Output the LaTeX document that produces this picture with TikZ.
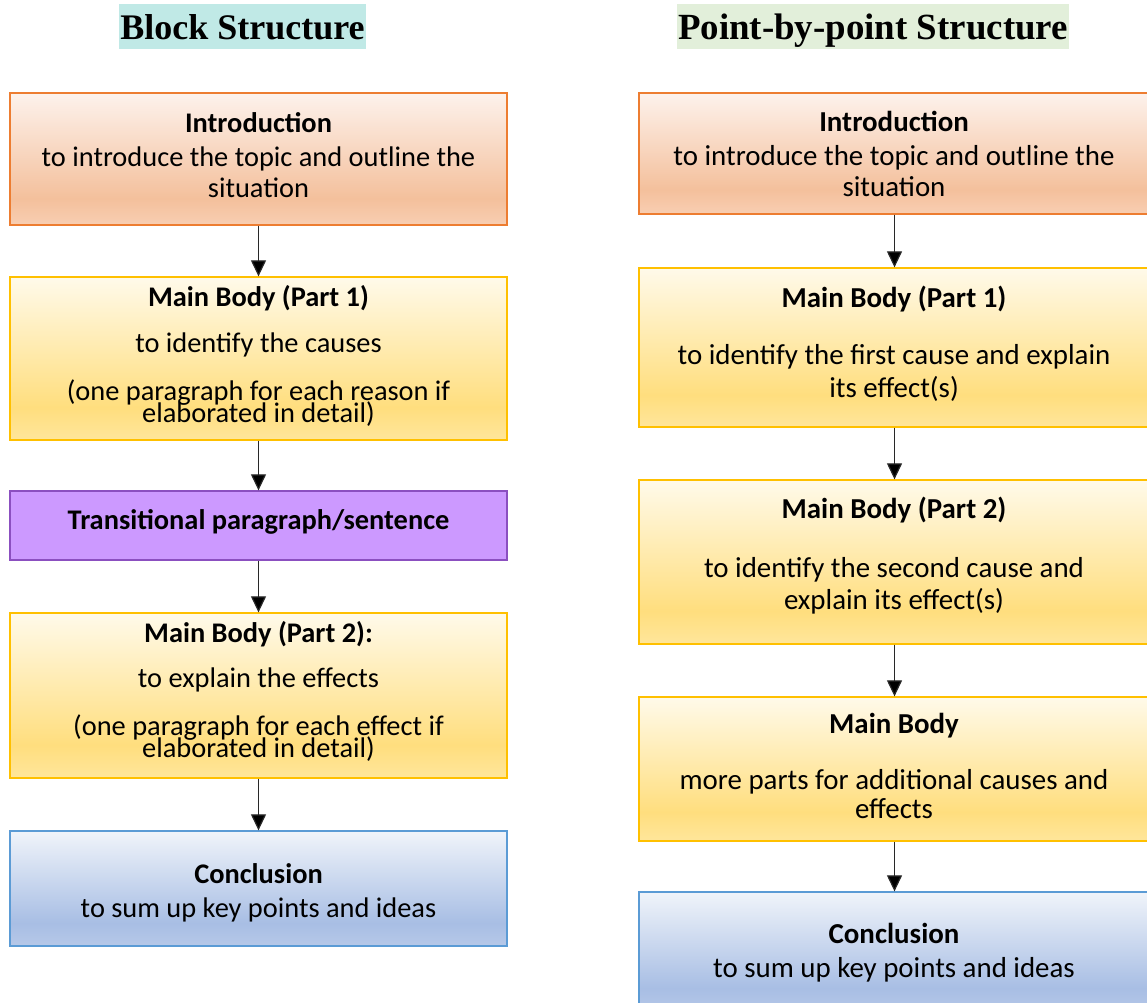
\documentclass[tikz,border=0pt]{standalone}
\usepackage{fontspec}
\setmainfont{Carlito}
\newfontfamily\titlefont{Liberation Serif}
\usetikzlibrary{arrows.meta}
\newcommand\mytightlines{\lineskiplimit=-100pt\relax\lineskip=0pt\relax}
\definecolor{cyanhl}{RGB}{192,233,230}
\definecolor{greenhl}{RGB}{226,239,218}
\definecolor{orbord}{RGB}{237,125,49}
\definecolor{yebord}{RGB}{255,192,0}
\definecolor{pubord}{RGB}{139,79,192}
\definecolor{pufill}{RGB}{204,153,255}
\definecolor{blbord}{RGB}{91,155,213}
\definecolor{inT}{RGB}{253,242,236}
\definecolor{inM}{RGB}{244,192,156}
\definecolor{inB}{RGB}{248,206,178}
\definecolor{yeT}{RGB}{255,250,234}
\definecolor{yeM}{RGB}{255,222,126}
\definecolor{yeB}{RGB}{255,230,155}
\definecolor{blT}{RGB}{240,244,250}
\definecolor{blM}{RGB}{168,190,228}
\definecolor{blB}{RGB}{182,200,232}
\definecolor{arr}{RGB}{40,40,40}
\pgfdeclareverticalshading{introsh}{100bp}{color(0bp)=(inB); color(25bp)=(inB); color(35bp)=(inM); color(75bp)=(inT); color(100bp)=(inT)}
\pgfdeclareverticalshading{yellowsh}{100bp}{color(0bp)=(yeB); color(25bp)=(yeB); color(35bp)=(yeM); color(75bp)=(yeT); color(100bp)=(yeT)}
\pgfdeclareverticalshading{bluesh}{100bp}{color(0bp)=(blB); color(25bp)=(blB); color(35bp)=(blM); color(75bp)=(blT); color(100bp)=(blT)}
\tikzset{
  boxbase/.style={draw, line width=1.3pt, inner sep=0pt},
  lbox/.style={boxbase, minimum width=497pt},
  rbox/.style={boxbase, minimum width=511pt},
  introbox/.style={draw=orbord, shading=introsh},
  bodybox/.style={draw=yebord, shading=yellowsh},
  transbox/.style={draw=pubord, fill=pufill},
  concbox/.style={draw=blbord, shading=bluesh},
  lt/.style={anchor=base, inner sep=0pt, font=\fontsize{28.4}{32}\selectfont},
  ltb/.style={lt, font=\fontsize{28.4}{32}\selectfont\bfseries},
  ltight/.style={anchor=north, inner sep=0pt, align=center, font=\fontsize{28.4}{22.5}\selectfont\mytightlines},
  rt/.style={anchor=base, inner sep=0pt, font=\fontsize{28.9}{32}\selectfont},
  rtb/.style={rt, font=\fontsize{28.9}{32}\selectfont\bfseries},
  titlebox/.style={inner sep=0pt, text depth=9.5pt, text height=35.5pt},
  flow/.style={draw=arr, line width=1.2pt, -{Triangle[width=15pt,length=16pt,fill=black]}}
}
\begin{document}
\begin{tikzpicture}[x=1pt,y=-1pt]
\useasboundingbox (0,0) rectangle (1147,1002);
\fill[white] (0,0) rectangle (1147,1002);
% titles
\node[titlebox, fill=cyanhl, minimum width=247pt, font=\fontsize{36}{40}\selectfont\titlefont\bfseries] (T1) at (242.5,26.5) {Block Structure};
\node[titlebox, fill=greenhl, minimum width=392pt, font=\fontsize{36.9}{40}\selectfont\titlefont\bfseries] (T2) at (873,26.5) {Point-by-point Structure};
% left boxes
\node[lbox, introbox, minimum height=132pt] (L1) at (258.5,159) {};
\node[lbox, bodybox, minimum height=163pt] (L2) at (258.5,358.5) {};
\node[lbox, transbox, minimum height=69pt] (L3) at (258.5,525.5) {};
\node[lbox, bodybox, minimum height=165pt] (L4) at (258.5,695.5) {};
\node[lbox, concbox, minimum height=115pt] (L5) at (258.5,888.5) {};
% right boxes
\node[rbox, introbox, minimum height=121pt] (R1) at (894.5,153.5) {};
\node[rbox, bodybox, minimum height=159pt] (R2) at (894.5,347.5) {};
\node[rbox, bodybox, minimum height=164pt] (R3) at (894.5,562) {};
\node[rbox, bodybox, minimum height=144pt] (R4) at (894.5,769) {};
\node[rbox, concbox, minimum height=120pt] (R5) at (894.5,952) {};
% left texts
\node[ltb] (L1a) at (258.5,132) {Introduction};
\node[lt] (L1b) at (258.5,166) {to introduce the topic and outline the};
\node[lt] (L1c) at (258.5,197) {situation};
\node[ltb] (L2a) at (258.5,306) {Main Body (Part 1)};
\node[lt] (L2b) at (258.5,352) {to identify the causes};
\node[ltight] (L2c) at (258.5,379.5) {(one paragraph for each reason if\\elaborated in detail)};
\node[ltb] (L3a) at (258.5,529) {Transitional paragraph/sentence};
\node[ltb] (L4a) at (258.5,642) {Main Body (Part 2):};
\node[lt] (L4b) at (258.5,687) {to explain the effects};
\node[ltight] (L4c) at (258.5,714.5) {(one paragraph for each effect if\\elaborated in detail)};
\node[ltb] (L5a) at (258.5,883) {Conclusion};
\node[lt] (L5b) at (258.5,917) {to sum up key points and ideas};
% right texts
\node[rtb] (R1a) at (894,131) {Introduction};
\node[rt] (R1b) at (894,165.5) {to introduce the topic and outline the};
\node[rt] (R1c) at (894,196) {situation};
\node[rtb] (R2a) at (894,307) {Main Body (Part 1)};
\node[rt] (R2b) at (894,364) {to identify the first cause and explain};
\node[rt] (R2c) at (894,397) {its effect(s)};
\node[rtb] (R3a) at (894,518) {Main Body (Part 2)};
\node[rt] (R3b) at (894,577) {to identify the second cause and};
\node[rt] (R3c) at (894,609) {explain its effect(s)};
\node[rtb] (R4a) at (894,733) {Main Body};
\node[rt] (R4b) at (894,789) {more parts for additional causes and};
\node[rt] (R4c) at (894,818) {effects};
\node[rtb] (R5a) at (894,943) {Conclusion};
\node[rt] (R5b) at (894,977) {to sum up key points and ideas};
% connectors
\draw[flow] (L1.south) -- (L2.north);
\draw[flow] (L2.south) -- (L3.north);
\draw[flow] (L3.south) -- (L4.north);
\draw[flow] (L4.south) -- (L5.north);
\draw[flow] (R1.south) -- (R2.north);
\draw[flow] (R2.south) -- (R3.north);
\draw[flow] (R3.south) -- (R4.north);
\draw[flow] (R4.south) -- (R5.north);
\end{tikzpicture}
\end{document}
